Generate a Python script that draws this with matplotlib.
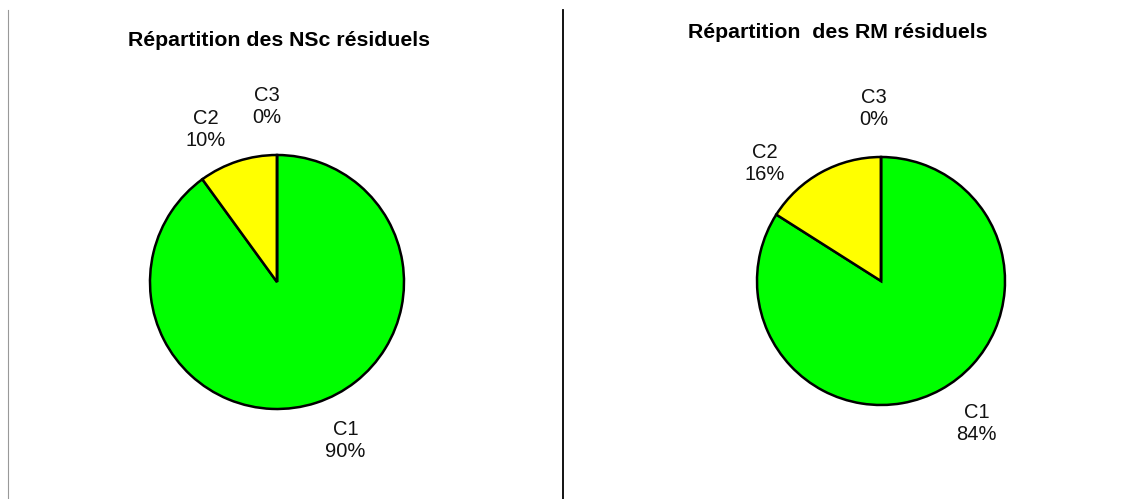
import matplotlib
matplotlib.use("Agg")
import matplotlib.pyplot as plt
from matplotlib.lines import Line2D

categories = ["C1", "C2", "C3"]
nsc_values = [90, 10, 0]
rm_values = [84, 16, 0]
titles = ["Répartition des NSc résiduels", "Répartition  des RM résiduels"]
colors = ["#00ff00", "#ffff00", "#ff9900"]

W, H = 1124, 499
fig = plt.figure(figsize=(W / 100, H / 100), dpi=100)
fig.patch.set_facecolor("white")
plt.rcParams['font.family'] = ['Liberation Sans', 'DejaVu Sans']

# layout: (center x px, center y px from top, radius px, label positions in radius units)
panels = [
    dict(values=nsc_values, cx=277, cy=282, r=127,
         lab=[(0.54, -1.25), (-0.56, 1.20), (-0.08, 1.38)],
         title=titles[0], tx=279, ty=41),
    dict(values=rm_values, cx=881, cy=281, r=124,
         lab=[(0.77, -1.15), (-0.94, 0.95), (-0.06, 1.39)],
         title=titles[1], tx=838, ty=33),
]

lim = 1.6
for p in panels:
    size = 2 * lim * p["r"]
    left = (p["cx"] - size / 2) / W
    bottom = (H - p["cy"] - size / 2) / H
    ax = fig.add_axes([left, bottom, size / W, size / H])
    ax.pie(p["values"], colors=colors, startangle=90, counterclock=False,
           wedgeprops=dict(edgecolor="black", linewidth=1.8))
    ax.set_xlim(-lim, lim)
    ax.set_ylim(-lim, lim)
    ax.set_aspect("equal")
    ax.axis("off")
    for cat, val, (lx, ly) in zip(categories, p["values"], p["lab"]):
        ax.text(lx, ly, f"{cat}\n{val}%", ha="center", va="center",
                fontsize=14.5, linespacing=1.2, color="#111111")
    fig.text(p["tx"] / W, 1 - p["ty"] / H, p["title"], ha="center", va="center",
             fontsize=15.3, fontweight="bold", color="black")

# separators
fig.add_artist(Line2D([563 / W, 563 / W], [0, 1 - 10 / H], color="black",
                      linewidth=1.3, transform=fig.transFigure))
fig.add_artist(Line2D([7.5 / W, 7.5 / W], [0, 1 - 10 / H], color="#999999",
                      linewidth=0.8, transform=fig.transFigure))

fig.savefig("out.png", dpi=100, facecolor="white")
